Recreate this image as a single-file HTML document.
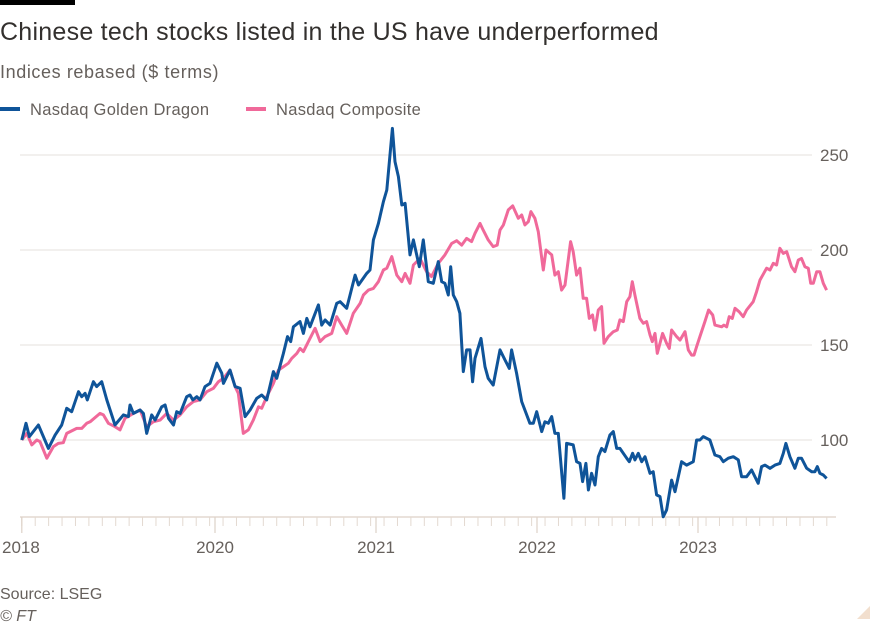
<!DOCTYPE html>
<html><head><meta charset="utf-8">
<style>
body{margin:0;background:#fff;width:875px;height:625px;overflow:hidden;font-family:"Liberation Sans",sans-serif;}
svg text{font-family:"Liberation Sans",sans-serif;}
</style></head>
<body>
<svg id="chart" width="875" height="625" viewBox="0 0 875 625">
<rect x="0" y="0" width="75" height="5" fill="#000"/>
<text x="0" y="40" font-size="25" letter-spacing="0.25" fill="#33302e">Chinese tech stocks listed in the US have underperformed</text>
<text x="0" y="78" font-size="18" letter-spacing="0.6" fill="#66605c">Indices rebased ($ terms)</text>
<g>
<g>
<rect x="0" y="107" width="20" height="4" fill="#0f5499"/>
<text x="30" y="115" font-size="16.5" letter-spacing="0.3" fill="#66605c">Nasdaq Golden Dragon</text>
</g>
<g>
<rect x="246" y="107" width="20" height="4" fill="#f0699a"/>
<text x="276" y="115" font-size="16.5" letter-spacing="0.3" fill="#66605c">Nasdaq Composite</text>
</g>
</g>
<g id="grid"></g>
<g id="xaxis"></g>
<g id="series"></g>
<text x="0" y="599" font-size="16" fill="#66605c">Source: LSEG</text>
<text x="0" y="621" font-size="16" font-style="italic" fill="#66605c">© FT</text>
<polygon points="870,606 870,619 857,619" fill="#f2dfce"/>
</svg>
<script>
const yTicks=[100,150,200,250];
const yearTicks=[2020,2021,2022,2023];
const yearLabels=["2018","2020","2021","2022","2023"];
const gdDates=[2018.80,2018.826,2018.847,2018.903,2018.965,2019.007,2019.048,2019.079,2019.110,2019.152,2019.172,2019.193,2019.207,2019.245,2019.265,2019.296,2019.328,2019.379,2019.431,2019.462,2019.472,2019.493,2019.535,2019.555,2019.576,2019.607,2019.628,2019.669,2019.690,2019.711,2019.742,2019.762,2019.783,2019.824,2019.845,2019.862,2019.887,2019.907,2019.938,2019.969,2020.011,2020.042,2020.052,2020.093,2020.125,2020.156,2020.187,2020.218,2020.259,2020.290,2020.321,2020.363,2020.383,2020.425,2020.450,2020.470,2020.487,2020.528,2020.549,2020.570,2020.590,2020.642,2020.663,2020.684,2020.715,2020.756,2020.777,2020.818,2020.870,2020.891,2020.942,2020.963,2020.984,2021.015,2021.046,2021.067,2021.102,2021.118,2021.139,2021.160,2021.181,2021.211,2021.232,2021.269,2021.294,2021.325,2021.356,2021.387,2021.408,2021.428,2021.449,2021.464,2021.480,2021.501,2021.521,2021.542,2021.563,2021.584,2021.600,2021.615,2021.652,2021.677,2021.697,2021.728,2021.770,2021.801,2021.828,2021.842,2021.873,2021.905,2021.956,2021.977,2021.998,2022.029,2022.049,2022.070,2022.091,2022.111,2022.132,2022.167,2022.184,2022.225,2022.246,2022.267,2022.283,2022.304,2022.319,2022.339,2022.360,2022.381,2022.401,2022.422,2022.453,2022.474,2022.495,2022.515,2022.557,2022.573,2022.594,2022.608,2022.629,2022.650,2022.671,2022.702,2022.722,2022.743,2022.764,2022.784,2022.805,2022.836,2022.857,2022.898,2022.929,2022.971,2022.991,2023.012,2023.033,2023.054,2023.074,2023.105,2023.136,2023.157,2023.188,2023.219,2023.250,2023.271,2023.302,2023.333,2023.374,2023.395,2023.416,2023.447,2023.478,2023.509,2023.530,2023.546,2023.571,2023.602,2023.623,2023.643,2023.675,2023.706,2023.726,2023.741,2023.757,2023.778,2023.799];
const gdValues=[100,108.8,101.8,107.9,95.6,102.6,107.9,116.7,114.9,125.4,122.8,124.6,121.1,130.7,128.1,130.7,121.1,107.9,113.2,112.3,118.4,114.0,115.8,114.0,103.5,113.2,110.5,117.5,118.4,111.4,107.9,114.9,114.0,122.8,123.7,121.1,122.8,121.1,128.1,129.8,140.4,135.1,129.8,136.8,128.1,127.2,112.3,115.8,121.9,123.7,121.1,136.0,132.5,145.6,154.4,151.8,159.6,162.3,156.1,164.0,159.6,171.1,160.5,163.2,160.5,171.9,172.8,169.3,186.8,181.6,187.7,189.5,205.3,214.0,225.4,231.6,264.0,246.5,238.6,223.7,224.6,197.4,205.3,191.2,205.3,183.3,182.5,193.9,183.3,182.5,176.3,191.2,176.3,172.8,166.7,136.0,147.4,147.4,130.7,143.0,153.5,138.6,132.5,128.9,147.4,142.1,137.7,147.4,135.1,120.2,108.8,108.8,114.9,104.4,109.6,108.8,112.3,103.5,103.5,69.3,98.2,97.4,88.6,87.7,78.1,87.7,73.7,82.5,76.3,91.2,95.6,93.9,102.6,104.4,95.6,95.6,90.4,88.6,93.0,89.5,93.0,88.6,91.2,82.5,83.3,71.1,70.2,59.6,63.2,78.9,72.8,88.6,86.8,88.6,100.0,100.0,101.8,100.9,100.0,92.1,91.2,88.6,90.4,91.2,89.5,80.7,80.7,84.2,77.2,86.0,86.8,85.1,86.8,87.7,93.0,98.2,91.2,85.1,90.4,90.4,85.1,83.3,83.3,86.0,82.5,81.6,79.8];
const ncDates=[2018.80,2018.831,2018.862,2018.893,2018.913,2018.955,2018.996,2019.027,2019.058,2019.079,2019.141,2019.172,2019.203,2019.224,2019.286,2019.307,2019.338,2019.379,2019.410,2019.441,2019.493,2019.535,2019.576,2019.617,2019.659,2019.700,2019.742,2019.783,2019.824,2019.866,2019.907,2019.949,2019.990,2020.021,2020.052,2020.093,2020.125,2020.145,2020.176,2020.207,2020.238,2020.270,2020.290,2020.321,2020.363,2020.394,2020.425,2020.456,2020.477,2020.508,2020.528,2020.549,2020.580,2020.622,2020.653,2020.684,2020.725,2020.756,2020.787,2020.818,2020.859,2020.901,2020.922,2020.953,2020.984,2021.015,2021.046,2021.067,2021.098,2021.129,2021.160,2021.181,2021.211,2021.232,2021.273,2021.314,2021.345,2021.387,2021.428,2021.470,2021.501,2021.532,2021.563,2021.594,2021.615,2021.646,2021.666,2021.697,2021.728,2021.753,2021.770,2021.791,2021.822,2021.849,2021.884,2021.905,2021.925,2021.946,2021.962,2021.987,2022.008,2022.039,2022.056,2022.091,2022.111,2022.132,2022.153,2022.174,2022.209,2022.225,2022.246,2022.267,2022.287,2022.308,2022.325,2022.345,2022.360,2022.381,2022.401,2022.416,2022.443,2022.474,2022.499,2022.515,2022.536,2022.557,2022.577,2022.592,2022.608,2022.639,2022.660,2022.681,2022.702,2022.716,2022.733,2022.747,2022.780,2022.805,2022.822,2022.836,2022.867,2022.888,2022.919,2022.940,2022.960,2022.975,2022.991,2023.012,2023.043,2023.066,2023.091,2023.105,2023.147,2023.161,2023.178,2023.194,2023.213,2023.230,2023.256,2023.281,2023.302,2023.343,2023.364,2023.385,2023.426,2023.447,2023.468,2023.488,2023.509,2023.530,2023.551,2023.581,2023.602,2023.623,2023.643,2023.664,2023.685,2023.700,2023.716,2023.737,2023.757,2023.778,2023.799];
const ncValues=[100,103.5,97.4,100,99.1,90.4,96.5,98.2,98.6,103.5,106.1,106.1,108.8,109.6,114.0,113.2,108.8,107.0,105.3,111.4,114.0,115.8,107.0,109.6,110.5,114.0,110.5,113.2,117.5,120.2,121.1,125.4,127.2,130.7,132.5,136.8,128.1,124.6,103.5,105.3,110.5,117.5,116.7,122.8,129.8,136.8,138.6,140.4,143.0,145.6,148.2,146.5,151.8,158.8,151.8,154.4,156.1,164.9,160.5,156.1,166.7,171.9,176.3,178.9,179.8,183.3,189.5,190.4,196.5,186.8,183.3,187.7,182.5,192.1,195.6,188.6,186.0,193.0,197.4,203.5,204.9,202.6,206.1,204.4,208.8,214.0,210.5,205.3,201.8,202.6,210.5,213.2,221.1,223.2,216.7,218.4,213.2,214.9,220.2,216.7,209.6,189.5,200.0,197.4,186.8,188.6,178.9,181.6,204.4,199.1,186.8,190.4,174.6,174.6,164.0,165.8,157.9,168.4,170.2,150.9,154.4,157.0,157.9,163.2,162.3,172.8,175.4,183.3,176.3,164.0,161.4,162.3,155.3,151.8,156.1,145.6,156.1,150.9,148.2,157.9,154.4,152.6,157.0,147.4,144.7,144.7,149.1,154.4,162.3,168.4,165.8,160.5,159.6,160.5,159.6,164.9,164.0,169.3,167.5,164.9,168.4,172.8,178.1,184.2,190.4,189.5,193.0,192.1,200.9,198.2,199.1,191.2,188.6,194.7,195.6,191.2,190.4,182.5,182.5,188.6,188.6,182.5,178.9];

const NS='http://www.w3.org/2000/svg';
function xScale(t){return 215+(t-2020)*161;}
function yScale(v){return 440-(v-100)*1.9;}
const grid=document.getElementById('grid');
yTicks.forEach(v=>{
  const l=document.createElementNS(NS,'line');
  l.setAttribute('x1',20);l.setAttribute('x2',812);
  l.setAttribute('y1',yScale(v));l.setAttribute('y2',yScale(v));
  l.setAttribute('stroke','#ebe7e3');l.setAttribute('stroke-width',1.3);
  
  
  grid.appendChild(l);
  const t=document.createElementNS(NS,'text');
  t.setAttribute('x',820);t.setAttribute('y',yScale(v)+6);
  t.setAttribute('font-size',17);t.setAttribute('fill','#66605c');
  t.textContent=v;
  
  
  grid.appendChild(t);
});
const xa=document.getElementById('xaxis');
const base=517;
const al=document.createElementNS(NS,'line');
al.setAttribute('x1',20);al.setAttribute('x2',836);al.setAttribute('y1',base);al.setAttribute('y2',base);
al.setAttribute('stroke','#e3d9d0');al.setAttribute('stroke-width',1.5);


xa.appendChild(al);
for(let m=0;m<62;m++){
  const t=2018.80+m/12;
  if(xScale(t)>834)break;
  const tk=document.createElementNS(NS,'line');
  tk.setAttribute('x1',xScale(t));tk.setAttribute('x2',xScale(t));
  tk.setAttribute('y1',base);tk.setAttribute('y2',base+9);
  tk.setAttribute('stroke','#e3d9d0');tk.setAttribute('stroke-width',1);
  
  
  xa.appendChild(tk);
}
const majors=[gdDates[0]].concat(yearTicks);
majors.forEach((t,i)=>{
  const tk=document.createElementNS(NS,'line');
  tk.setAttribute('x1',xScale(t));tk.setAttribute('x2',xScale(t));
  tk.setAttribute('y1',base);tk.setAttribute('y2',base+16);
  tk.setAttribute('stroke','#ddd2c8');tk.setAttribute('stroke-width',1.2);
  
  
  xa.appendChild(tk);
  const lb=document.createElementNS(NS,'text');
  lb.setAttribute('x',i===0?2:xScale(t));lb.setAttribute('y',553);
  lb.setAttribute('text-anchor',i===0?'start':'middle');
  lb.setAttribute('font-size',17);lb.setAttribute('fill','#66605c');
  lb.textContent=yearLabels[i];
  
  
  xa.appendChild(lb);
});
function drawLine(dates,vals,color,name){
  const p=document.createElementNS(NS,'path');
  p.setAttribute('d',dates.map((t,i)=>(i?'L':'M')+xScale(t).toFixed(1)+','+yScale(vals[i]).toFixed(1)).join(''));
  p.setAttribute('fill','none');p.setAttribute('stroke',color);p.setAttribute('stroke-width',3);
  p.setAttribute('stroke-linejoin','round');
  
  
  document.getElementById('series').appendChild(p);
}
drawLine(ncDates,ncValues,'#f0699a','line-nasdaq-composite');
drawLine(gdDates,gdValues,'#0f5499','line-nasdaq-golden-dragon');
</script>
</body></html>
